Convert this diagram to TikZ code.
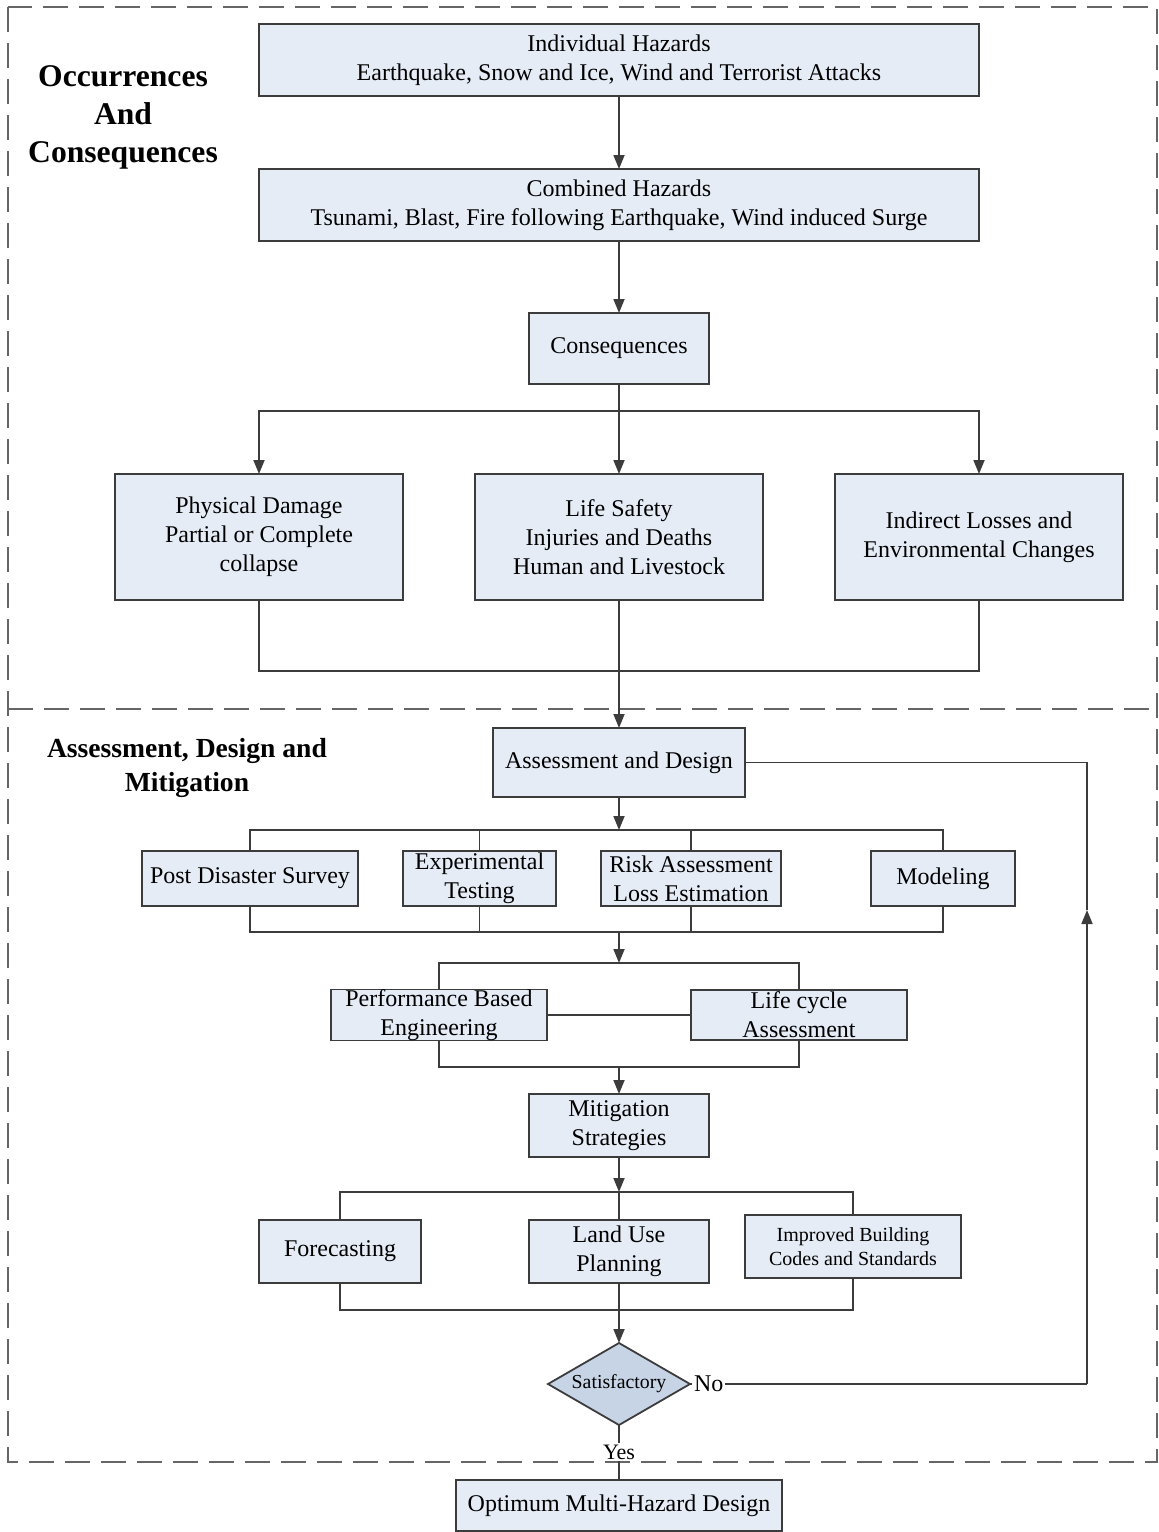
\documentclass[tikz,border=0pt]{standalone}
\usepackage{fontspec}
\setmainfont{Liberation Serif}
\usepackage{tikz}
\usetikzlibrary{shapes.geometric,arrows.meta,positioning}
\definecolor{boxfill}{HTML}{E5ECF6}
\definecolor{diafill}{HTML}{C7D4E6}
\definecolor{linegray}{HTML}{3C3C3C}

\begin{document}
\begin{tikzpicture}[x=0.5pt, y=-0.5pt, line width=0.9pt]
    % Define styles
    \tikzstyle{block} = [rectangle, draw=linegray, fill=boxfill, inner sep=0pt, outer sep=0pt, align=center, font=\fontsize{12}{14.5}\selectfont]
    \tikzstyle{choice} = [diamond, draw=linegray, fill=diafill, inner sep=0pt, outer sep=0pt, aspect=1.7, minimum width=71pt, minimum height=41pt, font=\fontsize{9.9}{11}\selectfont]
    \tikzstyle{heading} = [align=center, font=\bfseries\fontsize{15.8}{19}\selectfont]
    \tikzstyle{subheading} = [align=center, font=\bfseries\fontsize{13.8}{17}\selectfont]
    \tikzstyle{tag} = [inner sep=1pt, outer sep=0pt]
    \tikzstyle{wire} = [draw=linegray]
    \tikzstyle{arr} = [draw=linegray, -{Triangle[length=7pt,width=5.5pt]}]
    \tikzstyle{region} = [draw=black!60, dash pattern=on 12.5pt off 5.5pt, line width=1pt]

    \useasboundingbox (0,0) rectangle (1158,1532);

    % Regions
    \draw[region] (8,7) rectangle (1157,1462);
    \draw[region] (8,709) -- (1158,709);
    \node[heading] (occHead) at (123,117) {Occurrences\\And\\Consequences};
    \node[subheading] (asdHead) at (187,768) {Assessment, Design and\\Mitigation};

    % Nodes
    \node[block, minimum width=360pt, minimum height=36pt] (indiv) at (619,60) {Individual Hazards\\Earthquake, Snow and Ice, Wind and Terrorist Attacks};
    \node[block, minimum width=360pt, minimum height=36pt, below=36.5pt of indiv] (comb) {Combined Hazards\\Tsunami, Blast, Fire following Earthquake, Wind induced Surge};
    \node[block, minimum width=90pt, minimum height=35.5pt, below=36pt of comb] (cons) {Consequences};
    \node[block, minimum width=144pt, minimum height=63pt, below=45pt of cons] (life) {Life Safety\\Injuries and Deaths\\Human and Livestock};
    \node[block, minimum width=144pt, minimum height=63pt, left=36pt of life] (phys) {Physical Damage\\Partial or Complete\\collapse};
    \node[block, minimum width=144pt, minimum height=63pt, right=36pt of life] (indir) {Indirect Losses and\\Environmental Changes};
    \node[block, minimum width=126pt, minimum height=34.5pt, below=64pt of life] (assess) {Assessment and Design};
    \node[block, minimum width=90pt, minimum height=27.5pt, below=27pt of assess, xshift=36pt] (risk) {Risk Assessment\\Loss Estimation};
    \node[block, minimum width=76.5pt, minimum height=27.5pt, left=22.5pt of risk] (exper) {Experimental\\Testing};
    \node[block, minimum width=108pt, minimum height=27.5pt, left=22.5pt of exper] (post) {Post Disaster Survey};
    \node[block, minimum width=72pt, minimum height=27.5pt, right=45pt of risk] (model) {Modeling};
    \node[block, minimum width=108pt, minimum height=25pt] (perf) at (439,1015) {Performance Based\\Engineering};
    \node[block, minimum width=108pt, minimum height=25pt, right=72pt of perf] (lifec) {Life cycle\\Assessment};
    \node[block, minimum width=90pt, minimum height=31.5pt] (mitig) at (619,1125.5) {Mitigation\\Strategies};
    \node[block, minimum width=90pt, minimum height=31.5pt, below=31.5pt of mitig] (land) {Land Use\\Planning};
    \node[block, minimum width=81pt, minimum height=31.5pt, left=54pt of land] (fore) {Forecasting};
    \node[block, minimum width=108pt, minimum height=31.5pt, right=18pt of land, yshift=2.5pt, font=\fontsize{10}{12}\selectfont] (impr) {Improved Building\\Codes and Standards};
    \node[choice, below=30pt of land] (sat) {Satisfactory};
    \node[tag, right=1pt of sat, font=\fontsize{12}{13}\selectfont] (noLbl) {No};
    \node[tag, font=\fontsize{11}{12}\selectfont] (yesLbl) at (619,1452) {Yes};
    \node[block, minimum width=163pt, minimum height=25.5pt] (optim) at (619,1505.5) {Optimum Multi-Hazard Design};

    % Connections
    \draw[arr] (indiv) -- (comb);
    \draw[arr] (comb) -- (cons);
    \coordinate (split1) at (619,411);
    \draw[wire] (cons) -- (split1);
    \draw[arr] (split1) -| (phys);
    \draw[arr] (split1) -- (life);
    \draw[arr] (split1) -| (indir);
    \coordinate (join1) at (619,671);
    \draw[wire] (phys) |- (join1) -| (indir);
    \draw[wire] (life) -- (join1);
    \draw[arr] (join1) -- (assess);

    \coordinate (split2) at (619,830);
    \draw[arr] (assess) -- (split2);
    \draw[wire] (post) |- (split2) -| (model);
    \draw[wire] (exper) -- (exper |- split2);
    \draw[wire] (risk) -- (risk |- split2);
    \coordinate (join2) at (619,932);
    \draw[wire] (post) |- (join2) -| (model);
    \draw[wire] (exper) -- (exper |- join2);
    \draw[wire] (risk) -- (risk |- join2);

    \coordinate (split3) at (619,963);
    \draw[arr] (join2) -- (split3);
    \draw[wire] (perf) |- (split3) -| (lifec);
    \draw[wire] (perf) -- (lifec);
    \coordinate (join3) at (619,1067);
    \draw[wire] (perf) |- (join3) -| (lifec);
    \draw[arr] (join3) -- (mitig);

    \coordinate (split4) at (619,1192);
    \draw[arr] (mitig) -- (split4);
    \draw[wire] (fore) |- (split4) -| (impr);
    \draw[wire] (split4) -- (land);
    \coordinate (join4) at (619,1310);
    \draw[wire] (fore) |- (join4) -| (impr);
    \draw[wire] (land) -- (join4);
    \draw[arr] (join4) -- (sat);

    % Feedback loop
    \coordinate (fbk) at (1087,1384);
    \coordinate (fbkTip) at (1087,910);
    \coordinate (fbkTop) at (1087,762.5);
    \draw[wire] (sat) -- (noLbl);
    \draw[wire] (noLbl) -- (fbk);
    \draw[arr] (fbk) -- (fbkTip);
    \draw[wire] (fbkTip) -- (fbkTop) -- (assess);
    \draw[wire] (sat) -- (yesLbl);
    \draw[wire] (yesLbl) -- (optim);
\end{tikzpicture}
\end{document}
